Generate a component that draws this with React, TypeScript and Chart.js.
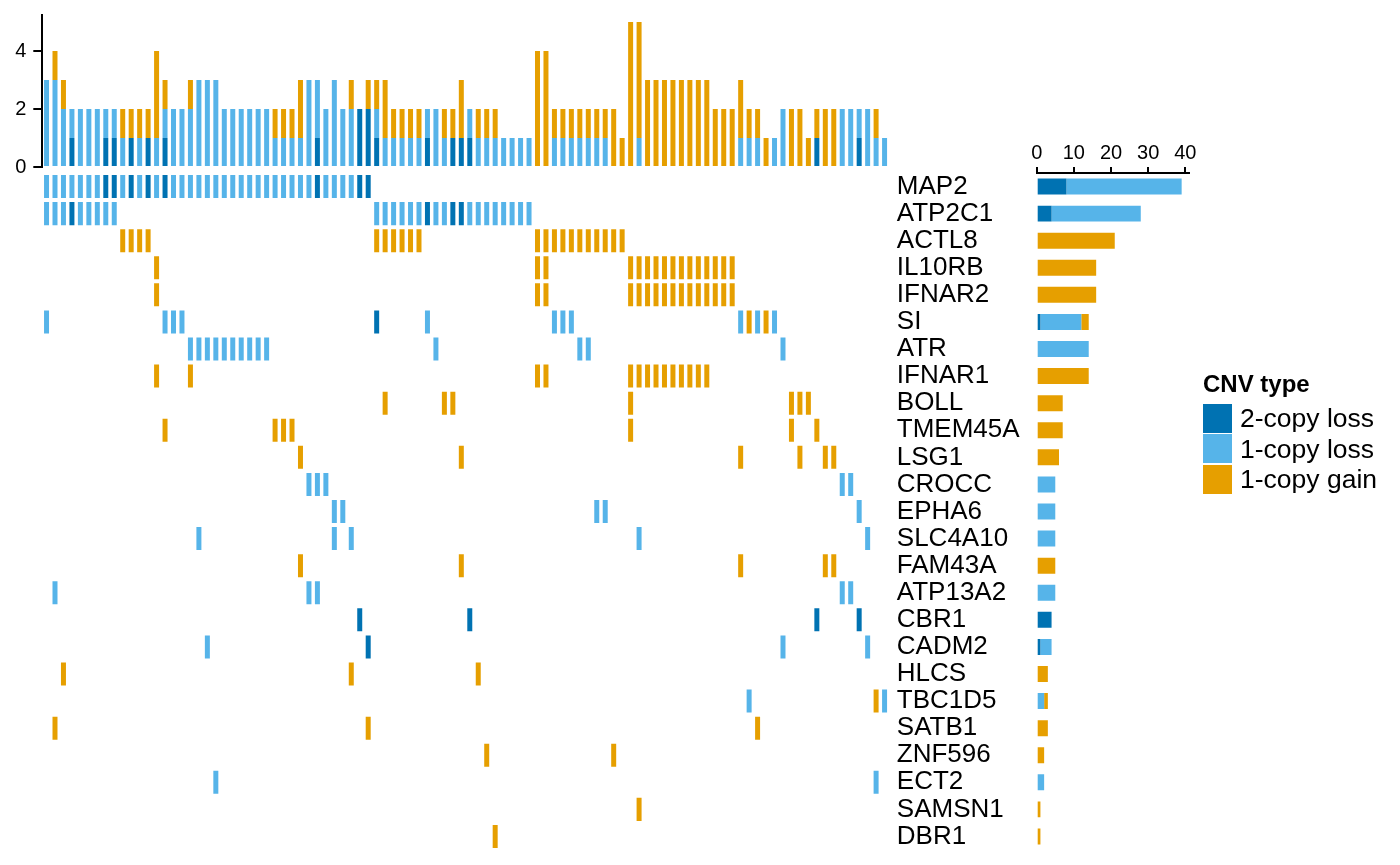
import React, { useEffect, useRef } from 'react';
import { Chart, registerables } from 'chart.js';

Chart.register(...registerables);

const FONT = "'Liberation Sans', Arial, Helvetica, sans-serif";

const genes = [
    'MAP2', 'ATP2C1', 'ACTL8', 'IL10RB', 'IFNAR2', 'SI', 'ATR', 'IFNAR1', 'BOLL',
    'TMEM45A', 'LSG1', 'CROCC', 'EPHA6', 'SLC4A10', 'FAM43A', 'ATP13A2', 'CBR1',
    'CADM2', 'HLCS', 'TBC1D5', 'SATB1', 'ZNF596', 'ECT2', 'SAMSN1', 'DBR1',
];

const nSamples = 100;
const sampleIds = Array.from({ length: nSamples }, (_, i) => 'S' + (i + 1));

const cnvTypes = ['2-copy loss', '1-copy loss', '1-copy gain'];
const cnvColors = ['#0072B2', '#56B4E9', '#E69F00'];

// sample positions (0 = leftmost column) carrying each event, one list per gene
const loss2Samples: number[][] = [
    [7, 8, 10, 12, 14, 32, 37, 38], // MAP2
    [3, 45, 48, 49], // ATP2C1
    [], [], [],
    [39], // SI
    [], [], [], [], [], [], [], [], [], [],
    [37, 50, 91, 96], // CBR1
    [38], // CADM2
    [], [], [], [], [], [], [],
];

const loss1Samples: number[][] = [
    [0, 1, 2, 3, 4, 5, 6, 9, 11, 13, 15, 16, 17, 18, 19, 20, 21, 22, 23, 24, 25, 26, 27, 28, 29, 30, 31, 33, 34, 35, 36], // MAP2
    [0, 1, 2, 4, 5, 6, 7, 8, 39, 40, 41, 42, 43, 44, 46, 47, 50, 51, 52, 53, 54, 55, 56, 57], // ATP2C1
    [], [], [],
    [0, 14, 15, 16, 45, 60, 61, 62, 82, 84, 86], // SI
    [17, 18, 19, 20, 21, 22, 23, 24, 25, 26, 46, 63, 64, 87], // ATR
    [], [], [], [],
    [31, 32, 33, 94, 95], // CROCC
    [34, 35, 65, 66, 96], // EPHA6
    [18, 34, 36, 70, 97], // SLC4A10
    [],
    [1, 31, 32, 94, 95], // ATP13A2
    [],
    [19, 87, 97], // CADM2
    [],
    [83, 99], // TBC1D5
    [], [],
    [20, 98], // ECT2
    [], [],
];

const gain1Samples: number[][] = [
    [], [],
    [9, 10, 11, 12, 39, 40, 41, 42, 43, 44, 58, 59, 60, 61, 62, 63, 64, 65, 66, 67, 68], // ACTL8
    [13, 58, 59, 69, 70, 71, 72, 73, 74, 75, 76, 77, 78, 79, 80, 81], // IL10RB
    [13, 58, 59, 69, 70, 71, 72, 73, 74, 75, 76, 77, 78, 79, 80, 81], // IFNAR2
    [83, 85], // SI
    [],
    [13, 17, 58, 59, 69, 70, 71, 72, 73, 74, 75, 76, 77, 78], // IFNAR1
    [40, 47, 48, 69, 88, 89, 90], // BOLL
    [14, 27, 28, 29, 69, 88, 91], // TMEM45A
    [30, 49, 82, 89, 92, 93], // LSG1
    [], [], [],
    [30, 49, 82, 92, 93], // FAM43A
    [], [], [],
    [2, 36, 51], // HLCS
    [98], // TBC1D5
    [1, 38, 84], // SATB1
    [52, 67], // ZNF596
    [],
    [70], // SAMSN1
    [53], // DBR1
];

const sampleTicks = [0, 2, 4];
const countTicks = [0, 10, 20, 30, 40];

const samplesByType = [loss2Samples, loss1Samples, gain1Samples];

// events per sample (top bars) and per gene (right bars)
const perSample = samplesByType.map(rows => {
    const c = new Array(nSamples).fill(0);
    rows.forEach(list => list.forEach(s => { c[s] += 1; }));
    return c;
});
const perGene = samplesByType.map(rows => rows.map(list => list.length));

const axisTicks = (values: number[]) => (axis: any) => {
    axis.ticks = values.map(v => ({ value: v }));
};

const App: React.FC = () => {
    const topRef = useRef<HTMLCanvasElement>(null);
    const gridRef = useRef<HTMLCanvasElement>(null);
    const sideRef = useRef<HTMLCanvasElement>(null);

    useEffect(() => {
        if (!topRef.current || !gridRef.current || !sideRef.current) return;
        Chart.defaults.font.family = FONT;
        Chart.defaults.color = '#000';

        // top: number of events per sample
        const top = new Chart(topRef.current, {
            type: 'bar',
            data: {
                labels: sampleIds,
                datasets: cnvTypes.map((t, k) => ({
                    label: t,
                    data: perSample[k],
                    backgroundColor: cnvColors[k],
                    borderWidth: 0,
                    barPercentage: 0.59,
                    categoryPercentage: 1,
                })),
            },
            options: {
                animation: false,
                responsive: true,
                maintainAspectRatio: false,
                layout: { padding: { left: 0, right: 11.2, top: 44.75, bottom: 30 } },
                plugins: { legend: { display: false }, tooltip: { enabled: false } },
                scales: {
                    x: { stacked: true, display: false },
                    y: {
                        stacked: true,
                        min: 0,
                        max: 5.25,
                        afterBuildTicks: axisTicks(sampleTicks),
                        afterFit: (axis: any) => { axis.width = 42.3; },
                        grid: { drawOnChartArea: false, tickLength: 9, color: '#000', lineWidth: 2 },
                        border: { display: true, color: '#000', width: 2 },
                        ticks: { padding: 7, color: '#000', font: { size: 20 } },
                    },
                },
            },
        });

        // middle: sample x gene tiles
        const grid = new Chart(gridRef.current, {
            type: 'bar',
            data: {
                labels: genes,
                datasets: cnvTypes.map((t, k) => ({
                    label: t,
                    data: genes.flatMap((g, r) => samplesByType[k][r].map(s => ({ x: [s - 0.295, s + 0.295], y: g }))),
                    backgroundColor: cnvColors[k],
                    borderWidth: 0,
                    grouped: false,
                    barPercentage: 0.85,
                    categoryPercentage: 1,
                })) as any,
            },
            options: {
                indexAxis: 'y',
                animation: false,
                responsive: true,
                maintainAspectRatio: false,
                layout: { padding: { left: 42.3, right: 0, top: 40, bottom: 40 } },
                plugins: { legend: { display: false }, tooltip: { enabled: false } },
                scales: {
                    x: { type: 'linear', min: -0.5, max: nSamples - 0.5, display: false },
                    y: {
                        type: 'category',
                        position: 'right',
                        afterFit: (axis: any) => { axis.width = 151.2; },
                        grid: { display: false, drawTicks: false },
                        border: { display: false },
                        ticks: { autoSkip: false, padding: 8, color: '#000', font: { size: 26 } },
                    },
                },
            },
        });

        // right: number of events per gene
        const side = new Chart(sideRef.current, {
            type: 'bar',
            data: {
                labels: genes,
                datasets: cnvTypes.map((t, k) => ({
                    label: t,
                    data: perGene[k],
                    backgroundColor: cnvColors[k],
                    borderWidth: 0,
                    barPercentage: 0.59,
                    categoryPercentage: 1,
                })),
            },
            options: {
                indexAxis: 'y',
                animation: false,
                responsive: true,
                maintainAspectRatio: false,
                layout: { padding: { left: 36.7, right: 41.1, top: 40, bottom: 40 } },
                plugins: { legend: { display: false }, tooltip: { enabled: false } },
                scales: {
                    x: {
                        stacked: true,
                        position: 'top',
                        min: 0,
                        max: 40.95,
                        afterBuildTicks: axisTicks(countTicks),
                        afterFit: (axis: any) => { axis.height = 40; },
                        grid: { drawOnChartArea: false, tickLength: 6, color: '#000', lineWidth: 2 },
                        border: { display: true, color: '#000', width: 2 },
                        ticks: { padding: 2, color: '#000', maxRotation: 0, font: { size: 20 } },
                    },
                    y: { stacked: true, display: false },
                },
            },
        });

        return () => {
            top.destroy();
            grid.destroy();
            side.destroy();
        };
    }, []);

    return (
        <div style={{ position: 'absolute', left: 0, top: 0, width: 1400, height: 865, background: '#fff', overflow: 'hidden', fontFamily: FONT }}>
            <div style={{ position: 'absolute', left: 0, top: -30, width: 900, height: 227 }}>
                <canvas ref={topRef} />
            </div>
            <div style={{ position: 'absolute', left: 0, top: 132.5, width: 1040, height: 757 }}>
                <canvas ref={gridRef} />
            </div>
            <div style={{ position: 'absolute', left: 1000, top: 92.5, width: 230, height: 797 }}>
                <canvas ref={sideRef} />
            </div>
            <div style={{ position: 'absolute', left: 1203, top: 369, color: '#000' }}>
                <div style={{ fontWeight: 'bold', fontSize: 24, lineHeight: '30px', height: 34 }}>CNV type</div>
                {cnvTypes.map((t, k) => (
                    <div key={t} style={{ display: 'flex', alignItems: 'center', height: 30.5 }}>
                        <span style={{ display: 'inline-block', width: 29, height: 29, background: cnvColors[k], marginRight: 8 }} />
                        <span style={{ fontSize: 26.5, lineHeight: '30px' }}>{t}</span>
                    </div>
                ))}
            </div>
        </div>
    );
};

export default App;
